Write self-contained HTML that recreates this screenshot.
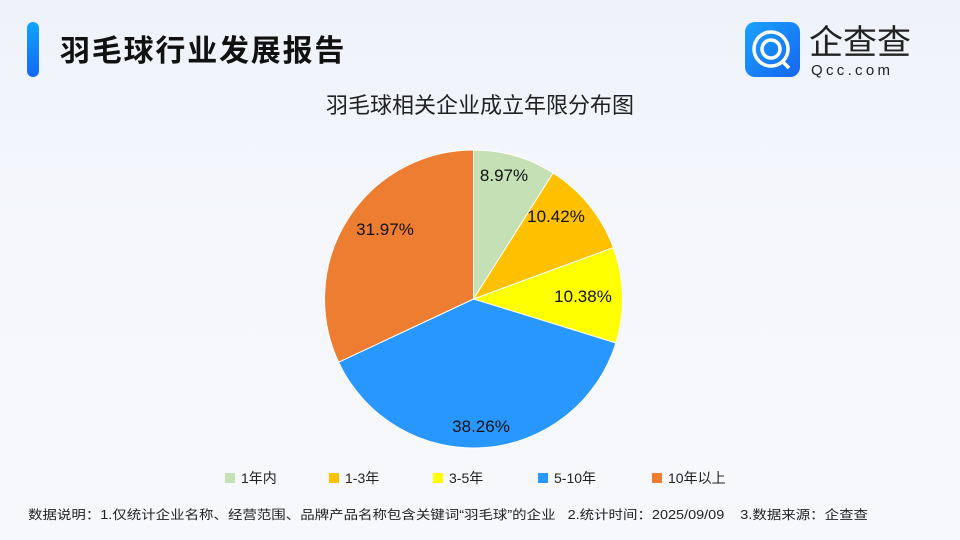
<!DOCTYPE html>
<html><head><meta charset="utf-8"><style>
body{margin:0;}
.p{width:960px;height:540px;position:relative;overflow:hidden;background:linear-gradient(180deg,#eef2fa 0%,#f5f7fc 40%,#f7f8fc 100%);font-family:"Liberation Sans","Noto Sans CJK SC",sans-serif;}
.bar{position:absolute;left:27px;top:22px;width:12px;height:55px;border-radius:6px;background:linear-gradient(#10a4fb,#1468f5);}
.t{position:absolute;left:60px;top:26px;font-size:30px;font-weight:bold;color:#111;letter-spacing:1.8px;}
</style></head><body><div class="p">
<div class="bar"></div>
<div class="t">羽毛球行业发展报告</div>
<svg width="960" height="540" style="position:absolute;left:0;top:0">
<defs><linearGradient id="lg" x1="0" y1="0" x2="1" y2="1"><stop offset="0" stop-color="#1aa3ff"/><stop offset="1" stop-color="#1565f0"/></linearGradient></defs>
<rect x="745" y="22" width="55" height="55" rx="10" fill="url(#lg)"/>
<circle cx="771" cy="49" r="17" fill="none" stroke="#fff" stroke-width="3.5"/>
<circle cx="771" cy="49" r="9" fill="none" stroke="#fff" stroke-width="3.5"/>
<line x1="782" y1="61" x2="789" y2="68" stroke="#fff" stroke-width="3.5"/>
<text x="809" y="54" font-size="34" fill="#222" font-family="Liberation Sans,Noto Sans CJK SC,sans-serif">企查查</text>
<text x="811" y="75" font-size="15" fill="#222" letter-spacing="3.3" font-family="Liberation Sans,sans-serif">Qcc.com</text>
<text x="480" y="113" font-size="22" text-anchor="middle" fill="#222" font-family="Liberation Sans,Noto Sans CJK SC,sans-serif">羽毛球相关企业成立年限分布图</text>
<g stroke="#fff" stroke-width="1">
<path d="M473.5,299 L473.5,150 A149,149 0 0 1 553.1,173 Z" fill="#c5e0b4"/>
<path d="M473.5,299 L553.1,173 A149,149 0 0 1 613.3,247.6 Z" fill="#ffc000"/>
<path d="M473.5,299 L613.3,247.6 A149,149 0 0 1 615.9,343 Z" fill="#ffff00"/>
<path d="M473.5,299 L615.9,343 A149,149 0 0 1 338.6,362.2 Z" fill="#2897ff"/>
<path d="M473.5,299 L338.6,362.2 A149,149 0 0 1 473.5,150 Z" fill="#ed7d31"/>
</g>
<g font-size="17" fill="#111" text-anchor="middle" font-family="Liberation Sans,sans-serif">
<text x="504" y="181">8.97%</text>
<text x="556" y="222">10.42%</text>
<text x="583" y="302">10.38%</text>
<text x="481" y="432">38.26%</text>
<text x="385" y="235">31.97%</text>
</g>
<g font-size="14" fill="#222" font-family="Liberation Sans,Noto Sans CJK SC,sans-serif">
<rect x="225" y="473" width="10" height="10" fill="#c5e0b4"/><text x="241" y="483">1年内</text>
<rect x="329" y="473" width="10" height="10" fill="#ffc000"/><text x="345" y="483">1-3年</text>
<rect x="433" y="473" width="10" height="10" fill="#ffff00"/><text x="449" y="483">3-5年</text>
<rect x="538" y="473" width="10" height="10" fill="#2897ff"/><text x="554" y="483">5-10年</text>
<rect x="652" y="473" width="10" height="10" fill="#ed7d31"/><text x="668" y="483">10年以上</text>
</g>
<text x="28" y="519" font-size="12.5" fill="#222" font-family="Liberation Sans,Noto Sans CJK SC,sans-serif" textLength="840" lengthAdjust="spacingAndGlyphs" style="white-space:pre">数据说明：1.仅统计企业名称、经营范围、品牌产品名称包含关键词“羽毛球”的企业&#160;&#160;&#160;2.统计时间：2025/09/09&#160;&#160;&#160;&#160;3.数据来源：企查查</text>
</svg>
</div></body></html>
